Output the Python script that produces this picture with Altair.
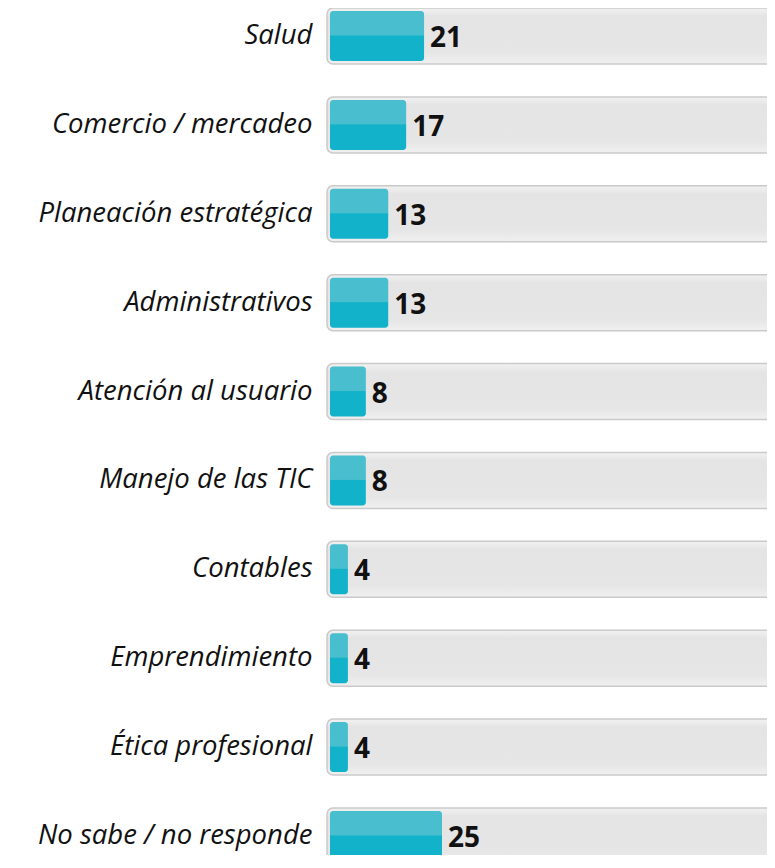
import altair as alt
import pandas as pd

categories = ["Salud", "Comercio / mercadeo", "Planeación estratégica", "Administrativos",
              "Atención al usuario", "Manejo de las TIC", "Contables", "Emprendimiento",
              "Ética profesional", "No sabe / no responde"]
values = [21, 17, 13, 13, 8, 8, 4, 4, 4, 25]
track_start = -0.67
track_end = 110

df = pd.DataFrame({"cat": categories, "val": values,
                   "t0": [track_start] * len(categories), "t1": [track_end] * len(categories)})

FONT = "Open Sans"
xs = alt.Scale(domain=[-0.67, 97.55], nice=False, zero=False)
ys = alt.Scale(domain=categories, range=[-16.44, 872.4], paddingInner=0, paddingOuter=0)

track_grad = alt.Gradient(gradient="linear", x1=0, x2=0, y1=0, y2=1, stops=[
    alt.GradientStop(color="#F2F2F2", offset=0),
    alt.GradientStop(color="#E5E4E5", offset=0.15),
    alt.GradientStop(color="#E7E6E7", offset=0.8),
    alt.GradientStop(color="#F0F0F0", offset=1)])
bar_grad = alt.Gradient(gradient="linear", x1=0, x2=0, y1=0, y2=1, stops=[
    alt.GradientStop(color="#48BECE", offset=0),
    alt.GradientStop(color="#48BECE", offset=0.48),
    alt.GradientStop(color="#12B3CA", offset=0.5),
    alt.GradientStop(color="#12B3CA", offset=1)])

base = alt.Chart(df)

track = base.mark_bar(height=56, cornerRadius=6, fill=track_grad, stroke="#CACACA",
                      strokeWidth=1.5).encode(
    x=alt.X("t0:Q", scale=xs, axis=None),
    x2="t1:Q",
    y=alt.Y("cat:N", scale=ys, sort=categories, title=None,
            axis=alt.Axis(ticks=False, domain=False, labelPadding=15, labelFont=FONT,
                          labelFontStyle="italic", labelFontSize=27.5, labelColor="#111111",
                          labelLimit=400)),
)

bars = base.mark_bar(height=50, cornerRadius=3, fill=bar_grad).encode(
    x=alt.X("val:Q", scale=xs, axis=None),
    x2=alt.datum(0),
    y=alt.Y("cat:N", scale=ys, sort=categories),
)

texts = base.mark_text(align="left", baseline="middle", dx=6, dy=3, font=FONT,
                       fontWeight="bold", fontSize=28, color="#111111").encode(
    x=alt.X("val:Q", scale=xs, axis=None),
    y=alt.Y("cat:N", scale=ys, sort=categories),
    text="val:Q",
)

chart = alt.layer(track, bars, texts).properties(
    width=440, height=847,
    autosize=alt.AutoSizeParams(type="none"),
    padding={"left": 319, "top": 0, "right": 0, "bottom": 0},
).configure_view(stroke=None)

chart.save("out.html", embed_options={"renderer": "svg", "actions": False})
